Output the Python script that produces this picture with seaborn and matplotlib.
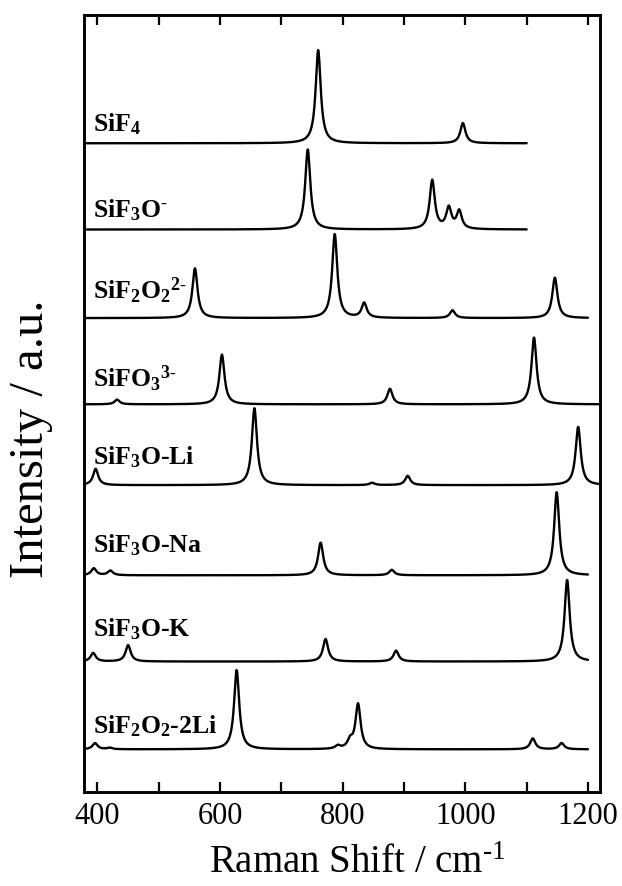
import numpy as np
import pandas as pd
import matplotlib
matplotlib.use("Agg")
import matplotlib.pyplot as plt
from matplotlib.ticker import MultipleLocator
import seaborn as sns

# species, top to bottom
species = ["SiF4", "SiF3O-", "SiF2O2 2-", "SiFO3 3-",
           "SiF3O-Li", "SiF3O-Na", "SiF3O-K", "SiF2O2-2Li"]
labels = ["SiF$_4$", "SiF$_3$O$^{\\text{-}}$", "SiF$_2$O$_2{}^{2\\text{-}}$",
          "SiFO$_3{}^{3\\text{-}}$", "SiF$_3$O-Li", "SiF$_3$O-Na", "SiF$_3$O-K",
          "SiF$_2$O$_2$-2Li"]

# vertical offset of each trace (axis runs 0..100)
offsets = [83.5, 72.4, 61.0, 49.9, 39.5, 27.9, 16.8, 5.5]
# last wavenumber of each computed spectrum
x_end = [1100, 1100, 1200, 1220, 1220, 1200, 1200, 1200]

# peak positions (cm-1) and heights
pos_sif4 = [760, 996]
amp_sif4 = [12.0, 2.6]
pos_sif3o = [743, 946, 973, 990]
amp_sif3o = [10.3, 6.3, 2.7, 2.3]
pos_sif2o2 = [559, 787, 835, 979, 1146]
amp_sif2o2 = [6.4, 10.8, 1.9, 1.0, 5.2]
pos_sifo3 = [432, 603, 877, 1112]
amp_sifo3 = [0.6, 6.4, 2.0, 8.6]
pos_li = [397, 656, 848, 906, 1184]
amp_li = [2.1, 9.9, 0.3, 1.2, 7.5]
pos_na = [394, 421, 764, 880, 1149]
amp_na = [0.9, 0.6, 4.2, 0.7, 10.7]
pos_k = [393, 450, 772, 887, 1166]
amp_k = [1.1, 2.1, 2.9, 1.4, 10.5]
pos_2li = [396, 420, 627, 792, 812, 825, 1110, 1157]
amp_2li = [0.8, 0.2, 10.2, 0.4, 1.0, 5.8, 1.4, 0.8]

positions = [pos_sif4, pos_sif3o, pos_sif2o2, pos_sifo3, pos_li, pos_na, pos_k, pos_2li]
heights = [amp_sif4, amp_sif3o, amp_sif2o2, amp_sifo3, amp_li, amp_na, amp_k, amp_2li]

HWHM = 5.0  # lorentzian half width, cm-1
# how far each label's baseline sits above its trace
label_lift = [1.5, 1.6, 2.4, 2.2, 2.65, 2.9, 3.3, 2.1]


def build_spectra():
    frames = []
    for i, name in enumerate(species):
        x = np.arange(380, x_end[i] + 0.25, 0.5)
        y = np.full_like(x, offsets[i], dtype=float)
        for p, a in zip(positions[i], heights[i]):
            y += a / (1 + ((x - p) / HWHM) ** 2)
        frames.append(pd.DataFrame({"shift": x, "intensity": y, "species": name}))
    return pd.concat(frames, ignore_index=True)


def main():
    sns.set_theme(style="ticks")
    plt.rcParams["font.family"] = ["Liberation Serif", "DejaVu Serif"]
    plt.rcParams["mathtext.fontset"] = "custom"
    plt.rcParams["mathtext.rm"] = "Liberation Serif"
    plt.rcParams["mathtext.bf"] = "Liberation Serif:bold"
    plt.rcParams["mathtext.default"] = "regular"
    for key in ["text.color", "axes.labelcolor", "xtick.color", "ytick.color", "axes.edgecolor"]:
        plt.rcParams[key] = "black"

    df = build_spectra()

    fig = plt.figure(figsize=(6.22, 8.86), dpi=100)
    ax = fig.add_axes([0.135, 0.106, 0.83, 0.877])

    sns.lineplot(data=df, x="shift", y="intensity", units="species",
                 estimator=None, sort=False, color="black", lw=1.7, ax=ax)

    for lab, off, lift in zip(labels, offsets, label_lift):
        ax.text(392, off + lift, lab, fontsize=18.5, fontweight="bold",
                ha="left", va="baseline")

    ax.set_xlim(378, 1220)
    ax.set_ylim(0, 100)
    ax.set_xticks([400, 600, 800, 1000, 1200])
    ax.xaxis.set_minor_locator(MultipleLocator(100))
    ax.set_yticks([])
    ax.tick_params(axis="x", which="both", direction="in", top=True, bottom=True,
                   length=7, width=1.6, labelsize=22, pad=7)
    for sp in ax.spines.values():
        sp.set_linewidth(2.1)

    ax.set_xlabel("Raman Shift / cm$^{\\text{-}1}$", fontsize=28)
    ax.xaxis.set_label_coords(0.53, -0.068)
    ax.set_ylabel("Intensity / a.u.", fontsize=35)
    ax.yaxis.set_label_coords(-0.06, 0.455)

    fig.savefig("out.png", dpi=100)
    plt.close(fig)


if __name__ == "__main__":
    main()
